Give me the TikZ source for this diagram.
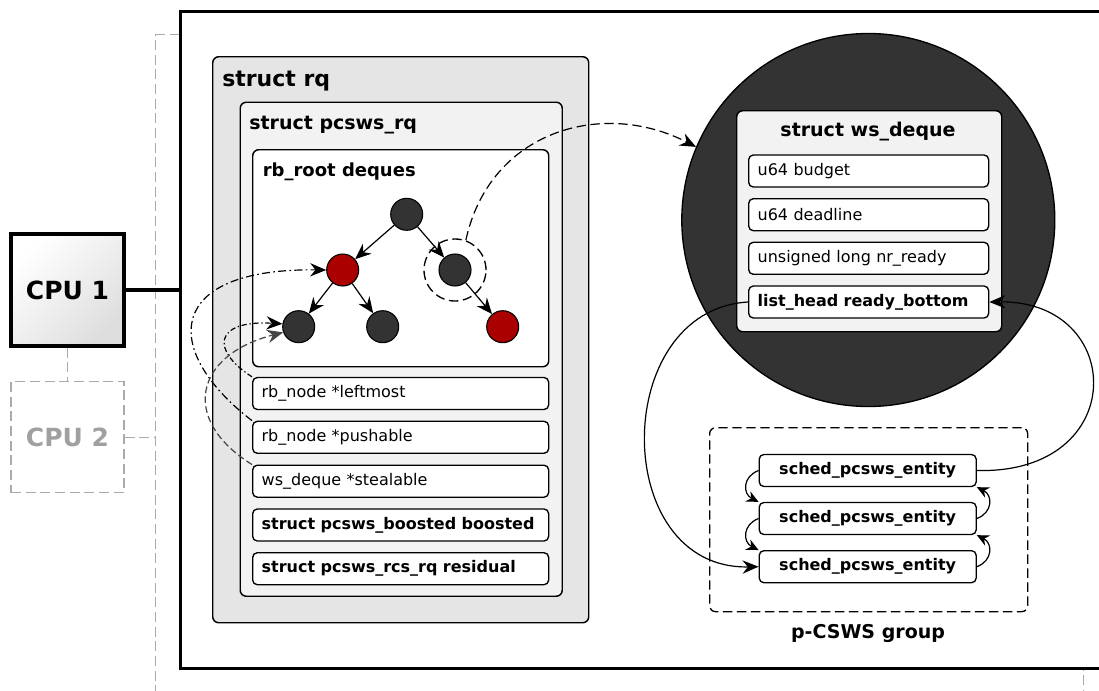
\documentclass[tikz,border=0pt]{standalone}
\usepackage{fontspec}
\setmainfont{DejaVu Sans}
\usetikzlibrary{calc}
\usetikzlibrary{arrows.meta}
\definecolor{rqgray}{HTML}{E5E5E5}
\definecolor{pcgray}{HTML}{F2F2F2}
\definecolor{dark}{HTML}{333333}
\definecolor{rbred}{HTML}{AA0000}
\definecolor{ghost}{HTML}{AAAAAA}
\definecolor{ghosttext}{HTML}{A0A0A0}
\definecolor{ptrgray}{HTML}{444444}

\begin{document}
\begin{tikzpicture}[x=0.75pt,y=-0.75pt,inner sep=0pt,
  box/.style={draw,line width=1.1pt,rounded corners=4.5pt,anchor=north west},
  field/.style={draw,fill=white,line width=1pt,rounded corners=3.5pt,minimum height=32*\u,
    inner xsep=9*\u,align=left,anchor=west,font=\fontsize{12}{14}\selectfont},
  bfield/.style={field,font=\bfseries\fontsize{12}{14}\selectfont},
  ent/.style={draw,fill=white,line width=1pt,rounded corners=3.5pt,minimum height=32*\u,
    minimum width=217*\u,font=\bfseries\fontsize{12}{14}\selectfont},
  tnode/.style={circle,draw,line width=0.8pt,fill=dark,minimum size=32*\u},
  rnode/.style={tnode,fill=rbred},
  gdash/.style={draw=ghost,line width=1pt,dash pattern=on 7.5pt off 3.5pt},
  ptr/.style={-{Stealth[length=12pt,width=10pt,inset=4pt]},line width=0.9pt},
  tarr/.style={-{Stealth[length=12pt,width=10pt,inset=4pt]},line width=0.9pt},
  loop/.style={-{Stealth[length=9pt,width=8.5pt,inset=3pt]},line width=0.9pt}]
\def\u{0.75pt}
\useasboundingbox (0,0) rectangle (1099,690);

\node[gdash,minimum width=928*\u,minimum height=720*\u,anchor=north west] (back) at (155,34) {};
\node[draw,fill=white,line width=2.3pt,minimum width=940*\u,minimum height=657*\u,anchor=north west] (host) at (179,10) {};

\node[draw,line width=2.3pt,minimum width=113*\u,minimum height=112*\u,
  top color=white,bottom color=black!13,shading angle=45,
  font=\bfseries\fontsize{18.75}{20}\selectfont] (cpu1) at (67.5,290) {CPU 1};
\node[gdash,minimum width=113*\u,minimum height=111*\u,text=ghosttext,
  font=\bfseries\fontsize{18.75}{20}\selectfont] (cpu2) at (67.5,437.3) {CPU 2};
\draw[line width=2.3pt] (cpu1) -- (cpu1 -| host.west);
\draw[gdash] (cpu1) -- (cpu2);
\draw[gdash] (cpu2) -- (cpu2 -| back.west);

\node[box,fill=rqgray,minimum width=376*\u,minimum height=566*\u] (rq) at (212,56) {};
\node[anchor=base west,font=\bfseries\fontsize{16.5}{18}\selectfont] (rqt) at (222,86) {struct rq};
\node[box,fill=pcgray,minimum width=322*\u,minimum height=494*\u] (pcrq) at (239.5,101.5) {};
\node[anchor=base west,font=\bfseries\fontsize{14.25}{16}\selectfont] (pct) at (249,129) {struct pcsws\_rq};
\node[box,fill=white,minimum width=296*\u,minimum height=217*\u] (deq) at (252,149) {};
\node[anchor=base west,font=\bfseries\fontsize{13.5}{15}\selectfont] (deqt) at (262.5,176) {rb\_root deques};

\node[tnode] (t0) at (406.7,214.3) {};
\node[rnode] (t1) at (342.7,270) {};
\node[tnode] (t2) at (455,270) {};
\node[tnode] (t3) at (298.7,326.7) {};
\node[tnode] (t4) at (382.7,326.7) {};
\node[rnode] (t5) at (502.7,326.7) {};
\node[circle,draw,line width=1pt,dash pattern=on 7pt off 3.5pt,minimum size=62*\u] (ring) at (t2) {};
\draw[tarr] (t0) -- (t1);
\draw[tarr] (t0) -- (t2);
\draw[tarr] (t1) -- (t3);
\draw[tarr] (t1) -- (t4);
\draw[tarr] (t2) -- (t5);

\node[field,text width=278*\u] (f1) at (252,393.5) {rb\_node *leftmost};
\node[field,text width=278*\u] (f2) at (252,437.3) {rb\_node *pushable};
\node[field,text width=278*\u] (f3) at (252,481.2) {ws\_deque *stealable};
\node[bfield,text width=278*\u] (f4) at (252,525) {struct pcsws\_boosted boosted};
\node[bfield,text width=278*\u] (f5) at (252,568.7) {struct pcsws\_rcs\_rq residual};

\node[circle,draw,fill=dark,line width=1pt,minimum size=373*\u] (wsq) at (868.3,220) {};
\node[box,fill=pcgray,minimum width=265*\u,minimum height=221*\u] (wsb) at (736,110) {};
\node[anchor=base,font=\bfseries\fontsize{14.25}{16}\selectfont] (wst) at (868,136.7) {struct ws\_deque};
\node[field,text width=222*\u] (bud) at (748,171) {u64 budget};
\node[field,text width=222*\u] (dl) at (748,214.7) {u64 deadline};
\node[field,text width=222*\u] (nr) at (748,258.3) {unsigned long nr\_ready};
\node[bfield,text width=222*\u] (rdy) at (748,302) {list\_head ready\_bottom};

\node[box,line width=1pt,dash pattern=on 7pt off 3.5pt,minimum width=318*\u,minimum height=184*\u] (grp) at (709,427) {};
\node[anchor=base,font=\bfseries\fontsize{14.25}{16}\selectfont] (grpt) at (868,638) {p-CSWS group};
\node[ent] (e1) at (867.7,470.5) {sched\_pcsws\_entity};
\node[ent] (e2) at (867.7,518.5) {sched\_pcsws\_entity};
\node[ent] (e3) at (867.7,566.7) {sched\_pcsws\_entity};

\draw[ptr,dash pattern=on 7pt off 3.5pt] (ring.70) .. controls +(24,-110) and +(-93,-48) .. (wsq.157);
\draw[ptr,dash pattern=on 4pt off 2pt on 1pt off 2pt] (f1.north west) .. controls +(-42,-27) and +(-68,-4) .. (t3.170);
\draw[ptr,dash pattern=on 6pt off 2.5pt on 1.2pt off 2.5pt] (f2.north west) .. controls +(-92,-71) and +(-161,-2) .. (t1.west);
\draw[ptr,draw=ptrgray,dash pattern=on 5pt off 2.5pt] (f3.north west) .. controls +(-72,-45) and +(-89,23) .. (t3.200);

\draw[ptr] (rdy.west) .. controls +(-138,8) and +(-149,3) .. (e3.west);
\draw[ptr] (e1.east) .. controls +(154,4) and +(137,-2) .. (rdy.east);
\draw[loop] (e1.west) .. controls +(-16,6) and +(-16,-8) .. (e2.north west);
\draw[loop] (e2.west) .. controls +(-16,6) and +(-16,-8) .. (e3.north west);
\draw[loop] (e2.east) .. controls +(16,-6) and +(16,8) .. (e1.south east);
\draw[loop] (e3.east) .. controls +(16,-6) and +(16,8) .. (e2.south east);
\end{tikzpicture}
\end{document}
